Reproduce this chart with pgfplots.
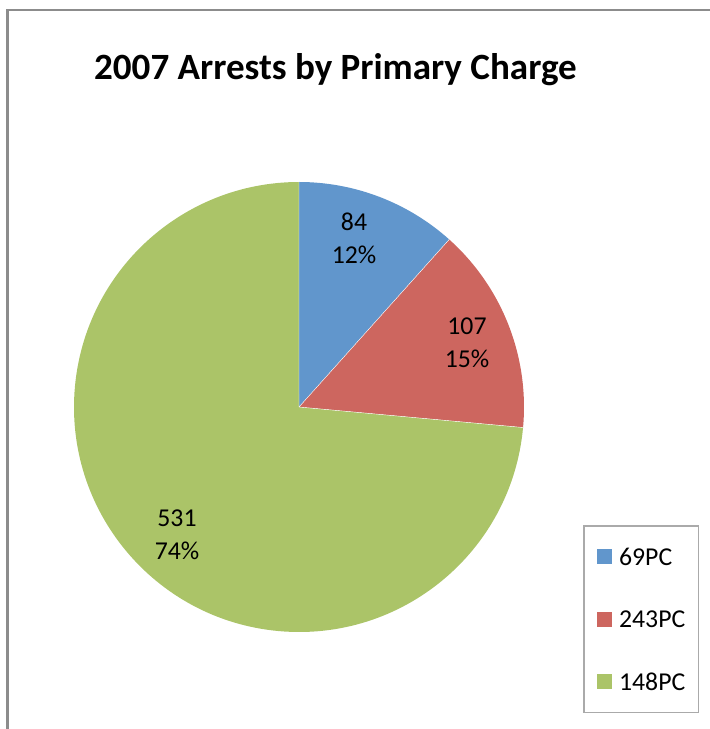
\documentclass[border=0pt]{standalone}
\usepackage{pgfplots}
\pgfplotsset{compat=1.18}
\usepackage{pgfplotstable}
\usepackage{fontspec}
\setmainfont{Carlito}
\definecolor{cA}{RGB}{97,150,204}
\definecolor{cB}{RGB}{205,102,95}
\definecolor{cC}{RGB}{171,196,104}
\definecolor{frame}{RGB}{140,140,140}
\definecolor{lframe}{RGB}{170,170,170}
\pgfplotstableread{
label value
69PC 84
243PC 107
148PC 531
}\piedata
\begin{document}
\begin{tikzpicture}
\pgfplotstablegetelem{0}{value}\of\piedata \edef\va{\pgfplotsretval}
\pgfplotstablegetelem{1}{value}\of\piedata \edef\vb{\pgfplotsretval}
\pgfplotstablegetelem{2}{value}\of\piedata \edef\vc{\pgfplotsretval}
\pgfmathsetmacro{\total}{\va+\vb+\vc}
\pgfmathsetmacro{\fA}{\va/\total}
\pgfmathsetmacro{\fB}{\vb/\total}
\pgfmathsetmacro{\fC}{\vc/\total}
\pgfmathsetmacro{\aA}{90-360*\fA}
\pgfmathsetmacro{\aB}{\aA-360*\fB}
\pgfmathsetmacro{\aC}{\aB-360*\fC}
\pgfmathtruncatemacro{\pA}{round(100*\fA)}
\pgfmathtruncatemacro{\pB}{round(100*\fB)}
\pgfmathtruncatemacro{\pC}{round(100*\fC)}
\begin{axis}[
  at={(0,0)}, anchor=south west,
  width=532.5pt, height=546.75pt, scale only axis,
  xmin=0, xmax=710, ymin=0, ymax=729,
  axis lines=none, clip=false,
  legend image code/.code={\fill[#1] (0pt,-5.625pt) rectangle (11.25pt,5.625pt);},
  legend style={at={(axis cs:583,204)}, anchor=north west,
    draw=lframe, line width=1.2pt,
    font=\fontsize{19.3}{22}\selectfont,
    nodes={inner sep=0pt, text depth=0pt},
    inner xsep=10pt, inner ysep=16.5pt, row sep=34.2pt,
    cells={anchor=west},
    /tikz/every odd column/.append style={column sep=5.25pt}},
]
\fill[cA] (axis cs:299,322) -- ++(90:168.75pt) arc[start angle=90, end angle=\aA, radius=168.75pt] -- cycle;
\fill[cB] (axis cs:299,322) -- ++(\aA:168.75pt) arc[start angle=\aA, end angle=\aB, radius=168.75pt] -- cycle;
\fill[cC] (axis cs:299,322) -- ++(\aB:168.75pt) arc[start angle=\aB, end angle=\aC, radius=168.75pt] -- cycle;
\draw[white, line width=0.3pt] (axis cs:299,322) -- ++(90:168.75pt)
  (axis cs:299,322) -- ++(\aA:168.75pt) (axis cs:299,322) -- ++(\aB:168.75pt);
\node[align=center, font=\fontsize{19.3}{24.75}\selectfont] at (axis cs:354,491) {\va\\\pA\%};
\node[align=center, font=\fontsize{19.3}{24.75}\selectfont] at (axis cs:467,386) {\vb\\\pB\%};
\node[align=center, font=\fontsize{19.3}{24.75}\selectfont] at (axis cs:177,194) {\vc\\\pC\%};
\node[anchor=base, font=\bfseries\fontsize{27.8}{32}\selectfont] at (axis cs:335.5,649) {2007 Arrests by Primary Charge};
\draw[frame, line width=1.8pt] (axis cs:7.5,-20) -- (axis cs:7.5,719) -- (axis cs:730,719);
\addlegendimage{fill=cA, draw=none}\addlegendentry{69PC}
\addlegendimage{fill=cB, draw=none}\addlegendentry{243PC}
\addlegendimage{fill=cC, draw=none}\addlegendentry{148PC}
\end{axis}
\pgfresetboundingbox
\path[use as bounding box] (0,0) rectangle (532.5pt,546.75pt);
\end{tikzpicture}
\end{document}
